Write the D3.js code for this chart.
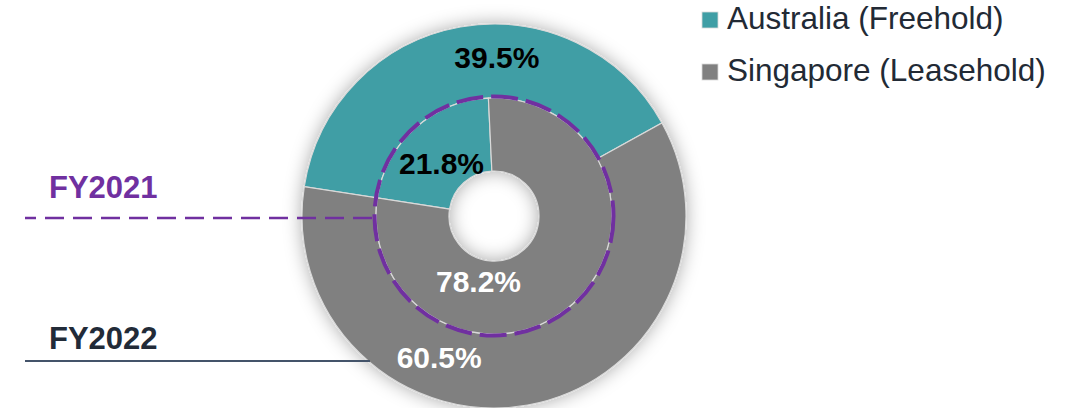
<!DOCTYPE html>
<meta charset="utf-8">
<style>
  body { margin: 0; background: #fff; }
  text { font-family: "Liberation Sans", Arial, sans-serif; }
  text.pct { font-size: 30px; font-weight: bold; text-anchor: middle; }
  text.year { font-size: 31px; font-weight: bold; }
  text.legend { font-size: 31.5px; fill: #222a35; }
</style>
<script src="https://d3js.org/d3.v7.min.js"></script>
<div id="chart"></div>
<script>
// data
var categories = ["Australia (Freehold)", "Singapore (Leasehold)"];
var fy2021 = [21.8, 78.2];   // inner ring
var fy2022 = [39.5, 60.5];   // outer ring
var years = ["FY2021", "FY2022"];

var W = 1074, H = 408;
var cx = 494, cy = 216;
var rHole = 45, rMid = 118, rOuter = 192;
var colors = ["#3f9ea5", "#808080"];
var labelColors = ["#000", "#fff"];
var startAngle = -81.2 * Math.PI / 180;

// label nudges (Excel doesn't place labels at the centroid)
var nudgeInner = [[2, 8], [-70, 5]];
var nudgeOuter = [[30, -6], [-82, -11]];

var svg = d3.select("#chart").append("svg")
    .attr("width", W)
    .attr("height", H);

var defs = svg.append("defs");
var f = defs.append("filter").attr("id", "shadow")
    .attr("x", "-20%").attr("y", "-20%").attr("width", "140%").attr("height", "140%");
f.append("feDropShadow")
    .attr("dx", 0).attr("dy", 0)
    .attr("stdDeviation", 9)
    .attr("flood-color", "#000")
    .attr("flood-opacity", 0.33);

var pie = d3.pie().sort(null)
    .startAngle(startAngle)
    .endAngle(startAngle + 2 * Math.PI);

var arcInner = d3.arc().innerRadius(rHole).outerRadius(rMid);
var arcOuter = d3.arc().innerRadius(rMid).outerRadius(rOuter);

var g = svg.append("g").attr("transform", "translate(" + cx + "," + cy + ")");

var donut = g.append("g").attr("filter", "url(#shadow)");

donut.selectAll("path.outer")
  .data(pie(fy2022))
  .enter().append("path")
    .attr("class", "outer")
    .attr("d", arcOuter)
    .attr("fill", function(d, i) { return colors[i]; })
    .attr("stroke", "#d9d9d9")
    .attr("stroke-width", 1.2);

donut.selectAll("path.inner")
  .data(pie(fy2021))
  .enter().append("path")
    .attr("class", "inner")
    .attr("d", arcInner)
    .attr("fill", function(d, i) { return colors[i]; })
    .attr("stroke", "#d9d9d9")
    .attr("stroke-width", 1.2);

// dashed purple ring marking FY2021
g.append("circle")
    .attr("r", rMid + 1.5)
    .attr("fill", "none")
    .attr("stroke", "#7030a0")
    .attr("stroke-width", 4)
    .attr("stroke-dasharray", "27,8");

// labels
g.selectAll("text.outerLbl")
  .data(pie(fy2022))
  .enter().append("text")
    .attr("class", "pct")
    .attr("x", function(d, i) { return arcOuter.centroid(d)[0] + nudgeOuter[i][0]; })
    .attr("y", function(d, i) { return arcOuter.centroid(d)[1] + nudgeOuter[i][1]; })
    .attr("dy", "0.36em")
    .attr("fill", function(d, i) { return labelColors[i]; })
    .text(function(d) { return d.data.toFixed(1) + "%"; });

g.selectAll("text.innerLbl")
  .data(pie(fy2021))
  .enter().append("text")
    .attr("class", "pct")
    .attr("x", function(d, i) { return arcInner.centroid(d)[0] + nudgeInner[i][0]; })
    .attr("y", function(d, i) { return arcInner.centroid(d)[1] + nudgeInner[i][1]; })
    .attr("dy", "0.36em")
    .attr("fill", function(d, i) { return labelColors[i]; })
    .text(function(d) { return d.data.toFixed(1) + "%"; });

// year call-outs
svg.append("line")
    .attr("x1", cx - rMid - 4).attr("x2", 25)
    .attr("y1", 218).attr("y2", 218)
    .attr("stroke", "#7030a0")
    .attr("stroke-width", 2.5)
    .attr("stroke-dasharray", "19,9");

svg.append("text")
    .attr("class", "year")
    .attr("x", 49).attr("y", 198)
    .attr("fill", "#7030a0")
    .text(years[0]);

svg.append("line")
    .attr("x1", 25).attr("x2", 370)
    .attr("y1", 361).attr("y2", 361)
    .attr("stroke", "#44546a")
    .attr("stroke-width", 2);

svg.append("text")
    .attr("class", "year")
    .attr("x", 49).attr("y", 349)
    .attr("fill", "#222b38")
    .text(years[1]);

// legend
var legend = svg.append("g").attr("transform", "translate(702,12)");
var item = legend.selectAll("g")
  .data(categories)
  .enter().append("g")
    .attr("transform", function(d, i) { return "translate(0," + (i * 52) + ")"; });

item.append("rect")
    .attr("width", 16).attr("height", 16)
    .attr("fill", function(d, i) { return colors[i]; })
    .attr("stroke", "#d9d9d9")
    .attr("stroke-width", 0.8);

item.append("text")
    .attr("class", "legend")
    .attr("x", 25).attr("y", 17)
    .text(function(d) { return d; });
</script>
